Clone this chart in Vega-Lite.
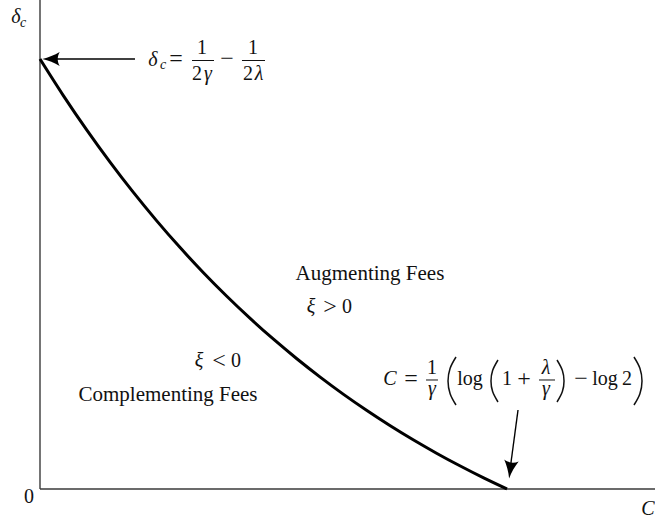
{
  "$schema": "https://vega.github.io/schema/vega-lite/v6.json",
  "width": 655,
  "height": 523,
  "padding": 0,
  "autosize": "none",
  "background": "white",
  "config": {"view": {"stroke": null}, "font": "Liberation Serif, DejaVu Serif, serif"},
  "datasets": {
    "curve": [
      {"u": 0, "v": 1},
      {"u": 0.05, "v": 0.915},
      {"u": 0.1, "v": 0.8352},
      {"u": 0.15, "v": 0.7602},
      {"u": 0.2, "v": 0.6897},
      {"u": 0.25, "v": 0.6236},
      {"u": 0.3, "v": 0.5614},
      {"u": 0.35, "v": 0.503},
      {"u": 0.4, "v": 0.4482},
      {"u": 0.45, "v": 0.3967},
      {"u": 0.5, "v": 0.3483},
      {"u": 0.55, "v": 0.3029},
      {"u": 0.6, "v": 0.2602},
      {"u": 0.65, "v": 0.2201},
      {"u": 0.7, "v": 0.1825},
      {"u": 0.75, "v": 0.1471},
      {"u": 0.8, "v": 0.1139},
      {"u": 0.85, "v": 0.0827},
      {"u": 0.9, "v": 0.0534},
      {"u": 0.95, "v": 0.0258},
      {"u": 1, "v": 0}
    ],
    "axes": [
      {"u": 0, "v": 0, "u2": 0, "v2": 1.137209},
      {"u": 0, "v": 0, "u2": 1.316916, "v2": 0}
    ],
    "shafts": [
      {"u": 0.2034, "v": 1, "u2": 0.02, "v2": 1},
      {"u": 1.0236, "v": 0.1837, "u2": 1.0064, "v2": 0.0442}
    ],
    "bars": [
      {"u": 0.3255, "v": 0.9965, "u2": 0.3726, "v2": 0.9965},
      {"u": 0.4325, "v": 0.9965, "u2": 0.4818, "v2": 0.9965},
      {"u": 0.8266, "v": 0.2535, "u2": 0.8522, "v2": 0.2535},
      {"u": 1.0685, "v": 0.2535, "u2": 1.1028, "v2": 0.2535}
    ],
    "labels": [
      {"t": "Augmenting Fees", "u": 0.7066, "v": 0.486},
      {"t": "Complementing Fees", "u": 0.2741, "v": 0.2047}
    ],
    "operators": [
      {"t": "=", "u": 0.2912, "v": 0.9837},
      {"t": "−", "u": 0.4004, "v": 0.9837},
      {"t": ">", "u": 0.621, "v": 0.407},
      {"t": "<", "u": 0.3833, "v": 0.2814},
      {"t": "=", "u": 0.7944, "v": 0.2396},
      {"t": "+", "u": 1.0364, "v": 0.2396},
      {"t": "−", "u": 1.1585, "v": 0.2396}
    ],
    "upright": [
      {"t": "1", "u": 0.3469, "v": 1.0116},
      {"t": "2", "u": 0.3362, "v": 0.9512},
      {"t": "1", "u": 0.4561, "v": 1.0116},
      {"t": "2", "u": 0.4454, "v": 0.9512},
      {"t": "0", "u": 0.6574, "v": 0.4093},
      {"t": "0", "u": 0.4197, "v": 0.2837},
      {"t": "0", "u": -0.0236, "v": -0.0326},
      {"t": "1", "u": 0.8394, "v": 0.2674},
      {"t": "log", "u": 0.9208, "v": 0.2419},
      {"t": "1", "u": 1.0, "v": 0.2419},
      {"t": "log", "u": 1.2099, "v": 0.2419},
      {"t": "2", "u": 1.257, "v": 0.2419}
    ],
    "italic": [
      {"t": "δ", "u": -0.0514, "v": 1.0837},
      {"t": "δ", "u": 0.242, "v": 0.9837},
      {"t": "γ", "u": 0.3597, "v": 0.9512},
      {"t": "λ", "u": 0.469, "v": 0.9512},
      {"t": "ξ", "u": 0.5803, "v": 0.4093},
      {"t": "ξ", "u": 0.3405, "v": 0.2837},
      {"t": "C", "u": 0.7495, "v": 0.2419},
      {"t": "γ", "u": 0.8394, "v": 0.2186},
      {"t": "λ", "u": 1.0835, "v": 0.2674},
      {"t": "γ", "u": 1.0835, "v": 0.2186},
      {"t": "C", "u": 1.3019, "v": -0.0605}
    ],
    "subscripts": [
      {"t": "c", "u": -0.0364, "v": 1.0744},
      {"t": "c", "u": 0.2634, "v": 0.9767}
    ],
    "parens": [
      {"p": "a", "u": 0.8908, "v": 0.307},
      {"p": "a", "u": 0.8782, "v": 0.2807},
      {"p": "a", "u": 0.8737, "v": 0.2512},
      {"p": "a", "u": 0.8782, "v": 0.2216},
      {"p": "a", "u": 0.8908, "v": 0.1953},
      {"p": "b", "u": 0.9807, "v": 0.3},
      {"p": "b", "u": 0.9692, "v": 0.2756},
      {"p": "b", "u": 0.9657, "v": 0.2512},
      {"p": "b", "u": 0.9692, "v": 0.2267},
      {"p": "b", "u": 0.9807, "v": 0.2023},
      {"p": "c", "u": 1.1071, "v": 0.3},
      {"p": "c", "u": 1.1186, "v": 0.2756},
      {"p": "c", "u": 1.1221, "v": 0.2512},
      {"p": "c", "u": 1.1186, "v": 0.2267},
      {"p": "c", "u": 1.1071, "v": 0.2023},
      {"p": "d", "u": 1.2719, "v": 0.307},
      {"p": "d", "u": 1.2846, "v": 0.2807},
      {"p": "d", "u": 1.2891, "v": 0.2512},
      {"p": "d", "u": 1.2846, "v": 0.2216},
      {"p": "d", "u": 1.2719, "v": 0.1953}
    ],
    "headLeft": [{"u": 0.0236, "v": 1}],
    "headDown": [{"u": 1.007, "v": 0.0453}]
  },
  "encoding": {
    "x": {"field": "u", "type": "quantitative", "scale": {"domain": [-0.085653, 1.316916], "nice": false, "zero": false}, "axis": null},
    "y": {"field": "v", "type": "quantitative", "scale": {"domain": [-0.07907, 1.137209], "nice": false, "zero": false}, "axis": null}
  },
  "layer": [
    {
      "data": {"name": "axes"},
      "mark": {"type": "rule", "stroke": "#3a3a3a", "strokeWidth": 1.4},
      "encoding": {"x2": {"field": "u2"}, "y2": {"field": "v2"}}
    },
    {
      "data": {"name": "curve"},
      "mark": {"type": "line", "stroke": "black", "strokeWidth": 3, "interpolate": "monotone"},
      "encoding": {}
    },
    {
      "data": {"name": "shafts"},
      "mark": {"type": "rule", "stroke": "black", "strokeWidth": 1.4},
      "encoding": {"x2": {"field": "u2"}, "y2": {"field": "v2"}}
    },
    {
      "data": {"name": "headLeft"},
      "mark": {"type": "point", "shape": "M1,0 C0.3,-0.15 -0.4,-0.45 -1,-0.8 C-0.7,-0.3 -0.7,0.3 -1,0.8 C-0.4,0.45 0.3,0.15 1,0 Z", "size": 300, "filled": true, "color": "black", "opacity": 1, "angle": 180}
    },
    {
      "data": {"name": "headDown"},
      "mark": {"type": "point", "shape": "M1,0 C0.3,-0.15 -0.4,-0.45 -1,-0.8 C-0.7,-0.3 -0.7,0.3 -1,0.8 C-0.4,0.45 0.3,0.15 1,0 Z", "size": 330, "filled": true, "color": "black", "opacity": 1, "angle": 97.4}
    },
    {
      "data": {"name": "bars"},
      "mark": {"type": "rule", "stroke": "#111", "strokeWidth": 1},
      "encoding": {"x2": {"field": "u2"}, "y2": {"field": "v2"}}
    },
    {
      "data": {"name": "parens"},
      "mark": {"type": "line", "stroke": "#111", "strokeWidth": 1.5, "interpolate": "cardinal"},
      "encoding": {"detail": {"field": "p"}, "order": {"field": "v"}}
    },
    {
      "data": {"name": "labels"},
      "mark": {"type": "text", "font": "Liberation Serif, DejaVu Serif, serif", "fontSize": 21, "align": "center", "baseline": "alphabetic", "color": "#111"},
      "encoding": {"text": {"field": "t"}}
    },
    {
      "data": {"name": "operators"},
      "mark": {"type": "text", "font": "Liberation Serif, DejaVu Serif, serif", "fontSize": 24, "align": "center", "baseline": "alphabetic", "color": "#111"},
      "encoding": {"text": {"field": "t"}}
    },
    {
      "data": {"name": "upright"},
      "mark": {"type": "text", "font": "Liberation Serif, DejaVu Serif, serif", "fontSize": 20, "align": "center", "baseline": "alphabetic", "color": "#111"},
      "encoding": {"text": {"field": "t"}}
    },
    {
      "data": {"name": "italic"},
      "mark": {"type": "text", "font": "Liberation Serif, DejaVu Serif, serif", "fontSize": 20, "fontStyle": "italic", "align": "center", "baseline": "alphabetic", "color": "#111"},
      "encoding": {"text": {"field": "t"}}
    },
    {
      "data": {"name": "subscripts"},
      "mark": {"type": "text", "font": "Liberation Serif, DejaVu Serif, serif", "fontSize": 14, "fontStyle": "italic", "align": "center", "baseline": "alphabetic", "color": "#111"},
      "encoding": {"text": {"field": "t"}}
    }
  ]
}
